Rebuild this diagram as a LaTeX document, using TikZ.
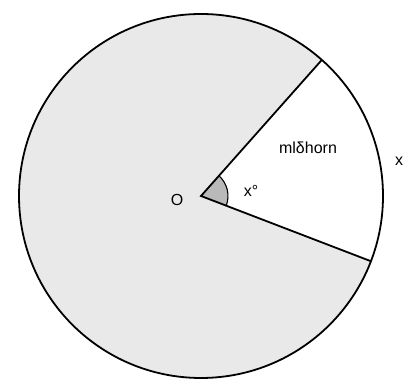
\documentclass[tikz,border=0pt]{standalone}
\usepackage{fontspec}
\setmainfont{Liberation Sans}
\usetikzlibrary{calc}
\begin{document}
\begin{tikzpicture}[x=1pt,y=1pt,
  outline/.style={line width=1.8pt,black},
  lbl/.style={font=\fontsize{16}{18}\selectfont,inner sep=0pt}]
\useasboundingbox (0,0) rectangle (405,379);
\coordinate (O) at (201,183);
\coordinate (A) at ($(O)+(48.4:182)$);
\coordinate (B) at ($(O)+(-21:182)$);
\fill[gray!17] (O) circle[radius=182];
\fill[white] (O) -- (B) arc[start angle=-21,end angle=48.4,radius=182] -- cycle;
\fill[gray!55] (O) -- ($(O)+(-21:27)$) arc[start angle=-21,end angle=48.4,radius=27] -- cycle;
\draw[line width=1.1pt] ($(O)+(-21:27)$) arc[start angle=-21,end angle=48.4,radius=27];
\draw[outline] (O) circle[radius=182];
\draw[outline] (A) -- (O) -- (B);
\node[lbl] (lo) at (177,179) {O};
\node[lbl] (lx) at (251,188) {x°};
\node[lbl] (lm) at (308,231) {mlδhorn};
\node[lbl] (lr) at (399,218) {x};
\end{tikzpicture}
\end{document}
